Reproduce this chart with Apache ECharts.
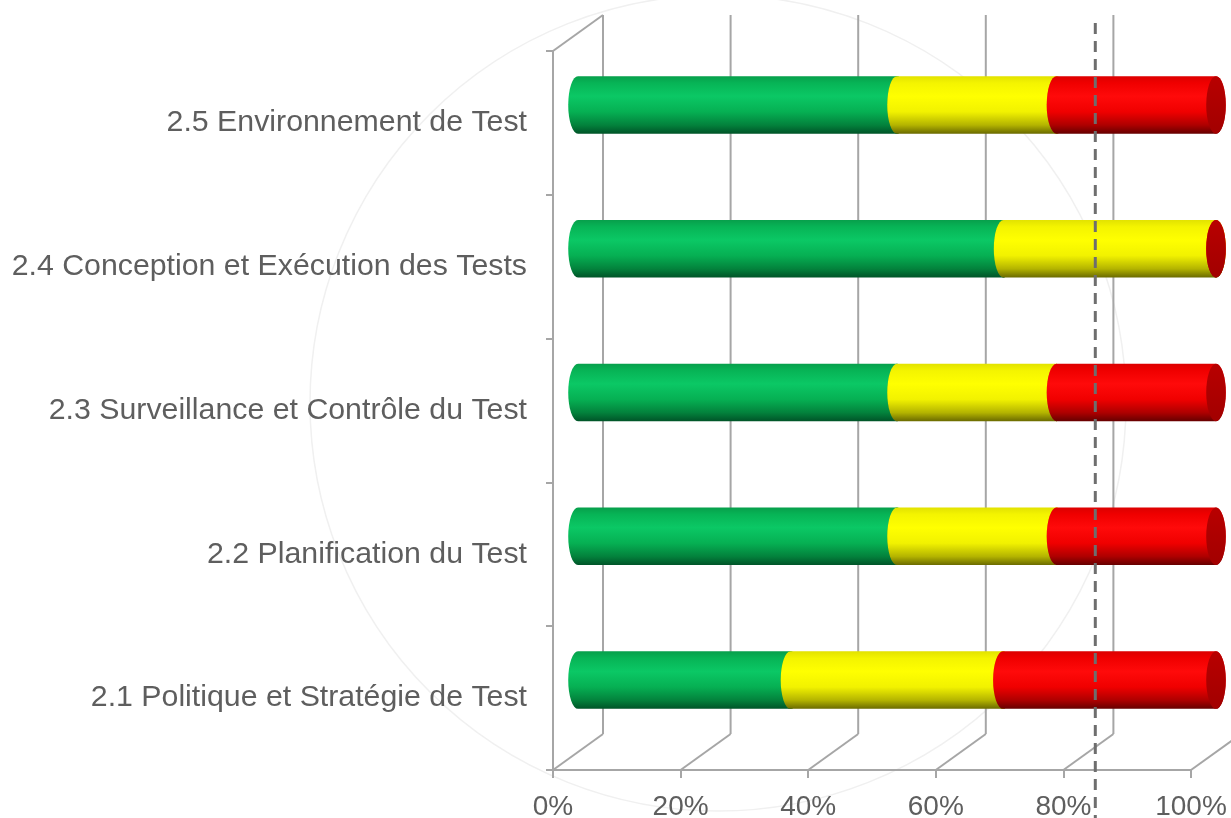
<!DOCTYPE html>
<html>
<head>
<meta charset="utf-8">
<script src="https://cdn.jsdelivr.net/npm/echarts@6/dist/echarts.min.js"></script>
<style>
  html, body { margin: 0; padding: 0; background: #ffffff; }
  #chart { width: 1231px; height: 818px; }
</style>
</head>
<body>
<div id="chart"></div>
<script>
// ---- data ----
const categories = [
  '2.1 Politique et Stratégie de Test',
  '2.2 Planification du Test',
  '2.3 Surveillance et Contrôle du Test',
  '2.4 Conception et Exécution des Tests',
  '2.5 Environnement de Test'
];
const greenValues  = [33.3, 50, 50, 66.7, 50];
const yellowValues = [33.3, 25, 25, 33.3, 25];
const redValues    = [33.4, 25, 25, 0, 25];
const xTickValues  = [0, 20, 40, 60, 80, 100];
const targetValue  = 85;

// ---- layout / style ----
const FRONT = { left: 553, top: 51, width: 638, height: 719 };
const DX = 50, DY = -36;
const TEXT = '#5e5e5e';
const GRIDC = '#a6a6a6';
const FONT = '"Liberation Sans", Arial, sans-serif';

function segs(idx) {
  const out = [];
  for (let i = 0; i < categories.length; i++) {
    const g = greenValues[i], y = yellowValues[i], r = redValues[i];
    const starts = [0, g, g + y];
    const vals = [g, y, r];
    out.push([starts[idx], starts[idx] + vals[idx], i]);
  }
  return out;
}

function grad(stops) {
  return { type: 'linear', x: 0, y: 0, x2: 0, y2: 1,
    colorStops: stops.map(s => ({ offset: s[0], color: s[1] })) };
}
const bodyGrad = [
  grad([[0, '#079f4b'], [0.12, '#07b456'], [0.35, '#0bc865'], [0.62, '#06b053'], [0.85, '#03823c'], [1, '#005428']]),
  grad([[0, '#e2e200'], [0.12, '#f4f400'], [0.35, '#ffff00'], [0.62, '#f2f200'], [0.85, '#b4b400'], [1, '#6a6a00']]),
  grad([[0, '#dc0000'], [0.12, '#f00000'], [0.35, '#ff0a0a'], [0.62, '#f00000'], [0.85, '#ae0000'], [1, '#660000']])
];
const capFill = [
  grad([[0, '#06a04c'], [1, '#03703a']]),
  grad([[0, '#d8d800'], [1, '#a8a800']]),
  grad([[0, '#b80000'], [1, '#a20000']])
];

function cylinderRender(idx) {
  return function (params, api) {
    const s = api.value(0), e = api.value(1), c = api.value(2);
    const p0 = api.coord([s, c]);
    const p1 = api.coord([e, c]);
    const band = Math.abs(api.size([0, 1])[1]);
    const ry = band * 0.2;
    const rx = ry * 0.34;
    const yc = p0[1], yt = yc - ry, yb = yc + ry;
    const x0 = p0[0], x1 = p1[0];
    const body = 'M' + x0 + ',' + yt + ' L' + x1 + ',' + yt +
      ' A' + rx + ',' + ry + ' 0 0 1 ' + x1 + ',' + yb +
      ' L' + x0 + ',' + yb +
      ' A' + rx + ',' + ry + ' 0 0 1 ' + x0 + ',' + yt + ' Z';
    const cap = 'M' + x1 + ',' + yt +
      ' A' + rx + ',' + ry + ' 0 0 1 ' + x1 + ',' + yb +
      ' A' + rx + ',' + ry + ' 0 0 1 ' + x1 + ',' + yt + ' Z';
    return {
      type: 'group',
      children: [
        { type: 'path', shape: { pathData: body }, style: { fill: bodyGrad[idx] } },
        { type: 'path', shape: { pathData: cap }, style: { fill: capFill[idx] } }
      ]
    };
  };
}

const chart = echarts.init(document.getElementById('chart'), null, { renderer: 'canvas' });

const option = {
  backgroundColor: '#ffffff',
  animation: false,
  graphic: [
    { type: 'circle', shape: { cx: 718, cy: 403, r: 408 }, style: { fill: 'none', stroke: '#f0f0f0', lineWidth: 1.5 }, z: -10, silent: true }
  ],
  grid: [
    { left: FRONT.left, top: FRONT.top, width: FRONT.width, height: FRONT.height, outerBoundsMode: 'none', containLabel: false },
    { left: FRONT.left + DX / 2, top: FRONT.top + DY / 2, width: FRONT.width, height: FRONT.height, outerBoundsMode: 'none', containLabel: false }
  ],
  xAxis: [
    { gridIndex: 0, type: 'value', min: 0, max: 100, interval: 20,
      axisLine: { show: true, lineStyle: { color: GRIDC, width: 2 } },
      axisTick: { show: true, inside: false, length: 8, lineStyle: { color: GRIDC, width: 2 } },
      axisLabel: { formatter: '{value}%', color: TEXT, fontSize: 28, fontFamily: FONT, margin: 23 },
      splitLine: { show: false } },
    { gridIndex: 1, type: 'value', min: 0, max: 100, interval: 20, show: false }
  ],
  yAxis: [
    { gridIndex: 0, type: 'category', data: categories,
      axisLine: { show: true, lineStyle: { color: GRIDC, width: 2 } },
      axisTick: { show: true, inside: false, length: 7, lineStyle: { color: GRIDC, width: 2 } },
      axisLabel: { color: TEXT, fontSize: 30.3, fontFamily: FONT, margin: 26 },
      splitLine: { show: false } },
    { gridIndex: 1, type: 'category', data: categories, show: false }
  ],
  series: [
    // back wall gridlines, floor diagonals and left wall top edge
    { type: 'custom', xAxisIndex: 0, yAxisIndex: 0, clip: false, silent: true, z: 1,
      data: xTickValues.map(v => [v, 0]),
      renderItem: function (params, api) {
        const cs = params.coordSys;
        const x = api.coord([api.value(0), 0])[0];
        const yb = cs.y + cs.height;
        const st = { stroke: GRIDC, lineWidth: 2 };
        const children = [
          { type: 'line', shape: { x1: x, y1: yb, x2: x + DX, y2: yb + DY }, style: st },
          { type: 'line', shape: { x1: x + DX, y1: cs.y + DY, x2: x + DX, y2: yb + DY }, style: st }
        ];
        if (params.dataIndex === 0) {
          children.push({ type: 'line', shape: { x1: x, y1: cs.y, x2: x + DX, y2: cs.y + DY }, style: st });
        }
        return { type: 'group', children: children };
      } },
    { name: 'vert', type: 'custom', xAxisIndex: 1, yAxisIndex: 1, clip: false, z: 3,
      encode: { x: [0, 1], y: 2 }, data: segs(0), renderItem: cylinderRender(0) },
    { name: 'jaune', type: 'custom', xAxisIndex: 1, yAxisIndex: 1, clip: false, z: 3,
      encode: { x: [0, 1], y: 2 }, data: segs(1), renderItem: cylinderRender(1) },
    { name: 'rouge', type: 'custom', xAxisIndex: 1, yAxisIndex: 1, clip: false, z: 3,
      encode: { x: [0, 1], y: 2 }, data: segs(2), renderItem: cylinderRender(2) },
    // target dashed line
    { type: 'custom', xAxisIndex: 0, yAxisIndex: 0, clip: false, silent: true, z: 10,
      data: [[targetValue, 0]],
      renderItem: function (params, api) {
        const cs = params.coordSys;
        const x = api.coord([api.value(0), 0])[0];
        return { type: 'line', shape: { x1: x, y1: cs.y - 28, x2: x, y2: cs.y + cs.height + 50 },
          style: { stroke: '#6e6e6e', lineWidth: 3, lineDash: [11, 7] } };
      } }
  ]
};
chart.setOption(option);
</script>
</body>
</html>
